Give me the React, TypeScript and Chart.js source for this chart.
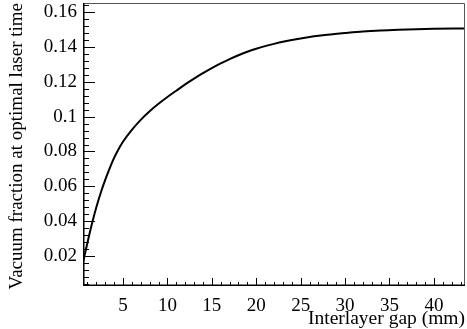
import React, { useEffect, useRef } from "react";
import { Chart, registerables } from "chart.js";

Chart.register(...registerables);

// Interlayer gap (mm)
const gapMm = [
  0.5, 1.0, 1.5, 2.0, 2.5, 3.0, 3.5, 4.0, 4.5, 5.0, 6.0, 7.0, 8.0, 9.0, 10.0,
  11.0, 12.0, 13.0, 14.0, 15.0, 16.0, 17.0, 18.0, 19.0, 20.0, 21.0, 22.0, 23.0,
  24.0, 25.0, 26.0, 27.0, 28.0, 30.0, 32.0, 34.0, 36.0, 38.0, 40.0, 43.5,
];
// Vacuum fraction at optimal laser time
const vacuumFraction = [
  0.0165, 0.0278, 0.0385, 0.0481, 0.0564, 0.0637, 0.0703, 0.0763, 0.0813,
  0.0856, 0.0924, 0.0981, 0.103, 0.1073, 0.1112, 0.1148, 0.1184, 0.1217,
  0.1248, 0.1277, 0.1304, 0.1329, 0.1351, 0.1371, 0.1388, 0.1403, 0.1416,
  0.1428, 0.1438, 0.1447, 0.1455, 0.1462, 0.1468, 0.1478, 0.1487, 0.1493,
  0.1497, 0.15, 0.1502, 0.1504,
];

const xRange = [0.5, 43.5];
const yRange = [0.003, 0.165];
const xMajorStep = 5;
const xMinorStep = 1;
const yMajorStep = 0.02;
const yMinorStep = 0.004;

const xTitle = "Interlayer gap (mm)";
const yTitle = "Vacuum fraction at optimal laser time";

const FONT = "Liberation Serif";
Chart.defaults.font.family = FONT;

const rootAxesPlugin = {
  id: "rootAxes",
  afterDraw(chart: any) {
    const { ctx, chartArea } = chart;
    const xs = chart.scales.x;
    const ys = chart.scales.y;
    const { left, right, top, bottom } = chartArea;
    ctx.save();
    ctx.lineWidth = 1;
    // top and right frame (lighter, like the reference)
    ctx.strokeStyle = "#555";
    ctx.beginPath();
    ctx.moveTo(left, Math.round(top) + 0.5);
    ctx.lineTo(Math.round(right) - 0.5, Math.round(top) + 0.5);
    ctx.lineTo(Math.round(right) - 0.5, bottom);
    ctx.stroke();
    ctx.strokeStyle = "#000";
    ctx.beginPath();
    const yStart = Math.ceil(yRange[0] / yMinorStep);
    const yEnd = Math.floor(yRange[1] / yMinorStep);
    for (let i = yStart; i <= yEnd; i++) {
      const v = i * yMinorStep;
      const py = Math.round(ys.getPixelForValue(v)) + 0.5;
      const major = i % Math.round(yMajorStep / yMinorStep) === 0;
      const len = major ? 12 : 6;
      ctx.moveTo(left, py);
      ctx.lineTo(left + len, py);
    }
    const xStart = Math.ceil(xRange[0] / xMinorStep);
    const xEnd = Math.floor(xRange[1] / xMinorStep);
    for (let i = xStart; i <= xEnd; i++) {
      const v = i * xMinorStep;
      const px = Math.round(xs.getPixelForValue(v)) + 0.5;
      const major = i % Math.round(xMajorStep / xMinorStep) === 0;
      const len = major ? 8 : 4;
      ctx.moveTo(px, bottom);
      ctx.lineTo(px, bottom - len);
    }
    ctx.stroke();
    ctx.lineWidth = 1.5;
    ctx.beginPath();
    ctx.moveTo(left + 0.75, top);
    ctx.lineTo(left + 0.75, bottom);
    ctx.moveTo(left, bottom - 0.75);
    ctx.lineTo(right, bottom - 0.75);
    ctx.stroke();
    ctx.restore();
  },
};

export default function App() {
  const canvasRef = useRef<HTMLCanvasElement | null>(null);

  useEffect(() => {
    document.body.style.margin = "0";
    const canvas = canvasRef.current;
    if (!canvas) return;
    const chart = new Chart(canvas, {
      type: "line",
      data: {
        datasets: [
          {
            data: gapMm.map((x, i) => ({ x, y: vacuumFraction[i] })),
            borderColor: "#000",
            borderWidth: 2,
            pointRadius: 0,
            fill: false,
            cubicInterpolationMode: "monotone",
          },
        ],
      },
      options: {
        responsive: false,
        animation: false,
        devicePixelRatio: 1,
        layout: { padding: { top: 3, right: 2, left: 0, bottom: 0 } },
        plugins: {
          legend: { display: false },
          tooltip: { enabled: false },
          title: { display: false },
        },
        scales: {
          x: {
            type: "linear",
            min: xRange[0],
            max: xRange[1],
            grid: { display: false, drawTicks: false },
            border: { display: false },
            ticks: {
              stepSize: xMajorStep,
              includeBounds: false,
              maxRotation: 0,
              autoSkip: false,
              padding: 9,
              color: "#000",
              font: { family: FONT, size: 19 },
              callback: (v: any) => String(v),
            },
            title: {
              display: true,
              text: xTitle,
              align: "end",
              color: "#000",
              font: { family: FONT, size: 19.5, lineHeight: 1 },
              padding: { top: 0, bottom: 0 },
            },
            afterFit: (s: any) => {
              s.height = 43;
              s.paddingLeft = 0;
              s.paddingRight = 0;
            },
          },
          y: {
            type: "linear",
            min: yRange[0],
            max: yRange[1],
            grid: { display: false, drawTicks: false },
            border: { display: false },
            ticks: {
              stepSize: yMajorStep,
              includeBounds: false,
              autoSkip: false,
              padding: 6,
              color: "#000",
              font: { family: FONT, size: 19 },
              callback: (v: any) => String(Math.round(v * 1000) / 1000),
            },
            title: {
              display: true,
              text: yTitle,
              align: "end",
              color: "#000",
              font: { family: FONT, size: 19, lineHeight: 1 },
              padding: { top: 8, bottom: 0 },
            },
            afterFit: (s: any) => {
              s.width = 83;
              s.paddingTop = 0;
              s.paddingBottom = 0;
            },
          },
        },
      },
      plugins: [rootAxesPlugin],
    });
    return () => chart.destroy();
  }, []);

  return (
    <canvas
      ref={canvasRef}
      width={467}
      height={329}
      style={{ display: "block", width: 467, height: 329 }}
    />
  );
}
